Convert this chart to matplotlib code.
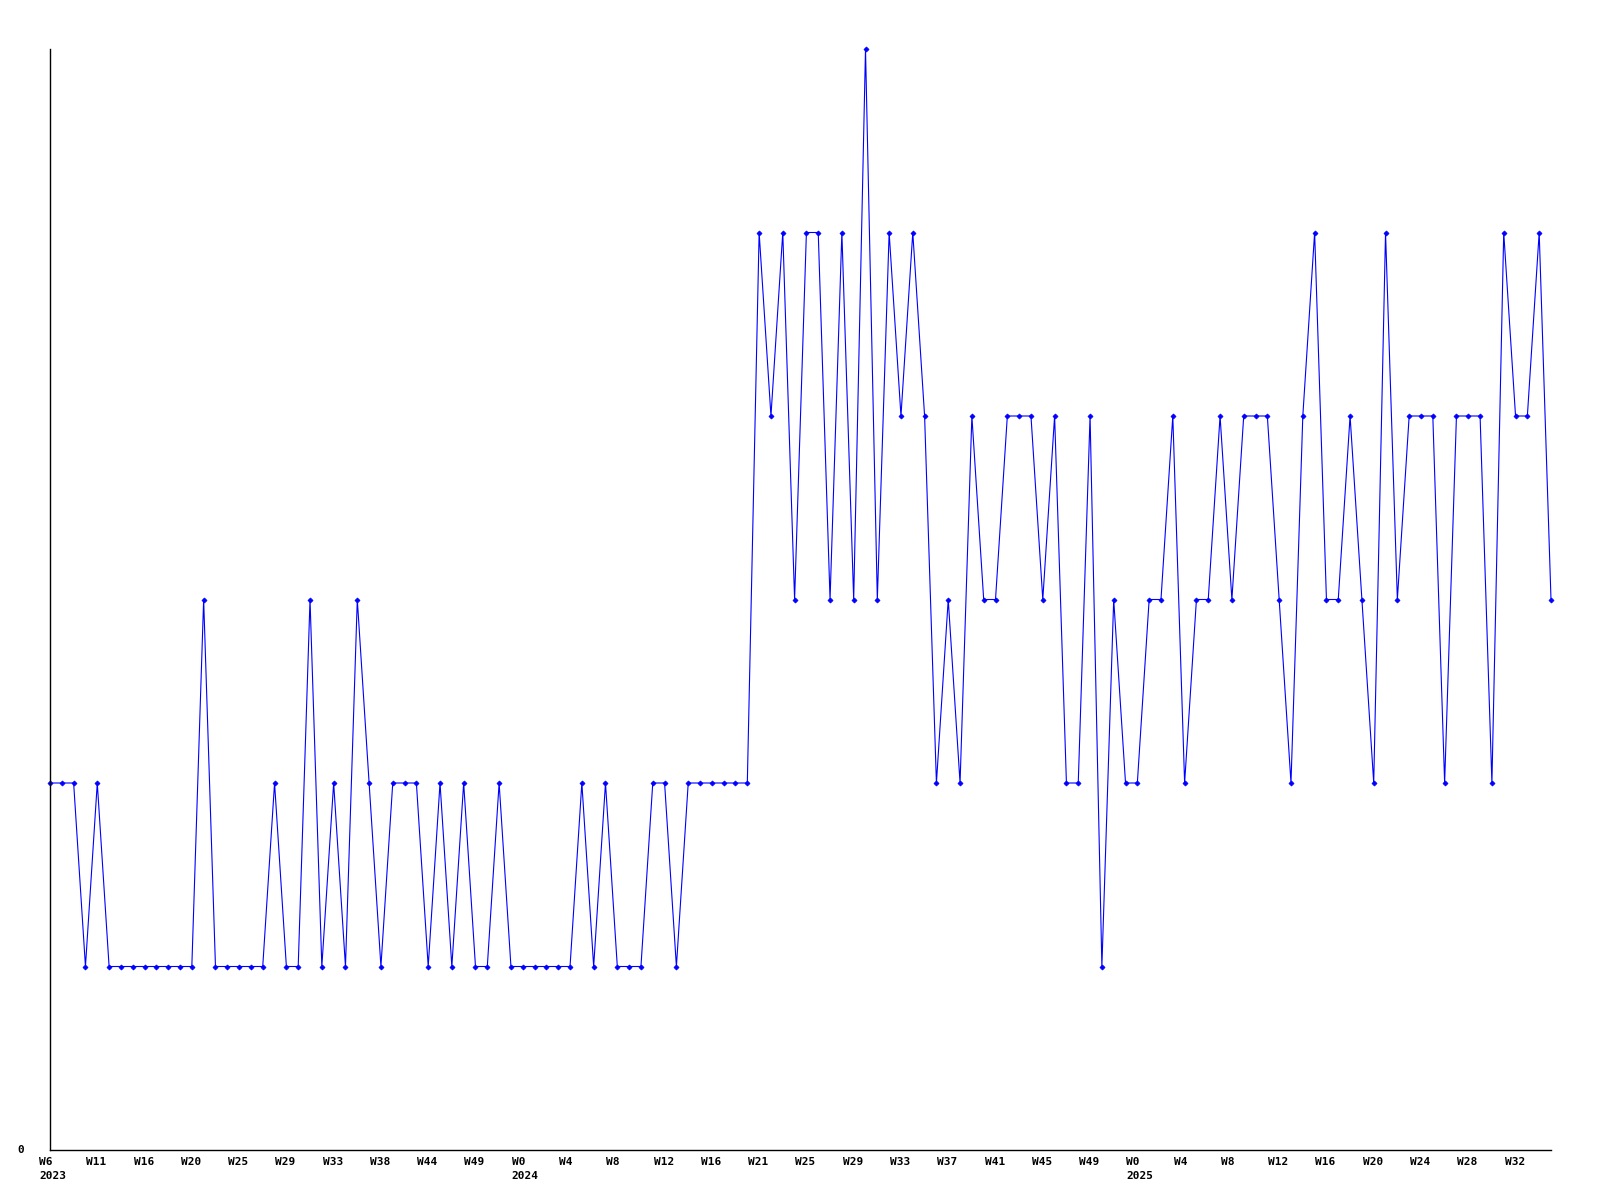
import numpy as np
import matplotlib.pyplot as plt

# valores semanales
valores = [2, 2, 2, 1, 2, 1, 1, 1, 1, 1, 1, 1, 1, 3, 1, 1, 1, 1, 1, 2,
           1, 1, 3, 1, 2, 1, 3, 2, 1, 2, 2, 2, 1, 2, 1, 2, 1, 1, 2, 1,
           1, 1, 1, 1, 1, 2, 1, 2, 1, 1, 1, 2, 2, 1, 2, 2, 2, 2, 2, 2,
           5, 4, 5, 3, 5, 5, 3, 5, 3, 6, 3, 5, 4, 5, 4, 2, 3, 2, 4, 3,
           3, 4, 4, 4, 3, 4, 2, 2, 4, 1, 3, 2, 2, 3, 3, 4, 2, 3, 3, 4,
           3, 4, 4, 4, 3, 2, 4, 5, 3, 3, 4, 3, 2, 5, 3, 4, 4, 4, 2, 4,
           4, 4, 2, 5, 4, 4, 5, 3]

etiquetas = ["W6\n2023", "W11", "W16", "W20", "W25", "W29", "W33", "W38",
             "W44", "W49", "W0\n2024", "W4", "W8", "W12", "W16", "W21",
             "W25", "W29", "W33", "W37", "W41", "W45", "W49", "W0\n2025",
             "W4", "W8", "W12", "W16", "W20", "W24", "W28", "W32"]
paso_etiqueta = 4

x = np.arange(len(valores))

fig = plt.figure(figsize=(16, 12), dpi=100)
ax = fig.add_axes([50 / 1600, 1 - 1150 / 1200, 1501 / 1600, 1101 / 1200])
ax.plot(x, valores, color="#0000ff", linewidth=0.8, marker="D",
        markersize=2.6, markeredgewidth=0.5, clip_on=False)
ax.set_xlim(0, len(valores) - 1)
ax.set_ylim(0, 6)

ax.spines["top"].set_visible(False)
ax.spines["right"].set_visible(False)
ax.spines["left"].set_linewidth(1.0)
ax.spines["bottom"].set_linewidth(1.0)
ax.set_xticks([])
ax.set_yticks([])

fuente = dict(family="DejaVu Sans Mono", fontweight="bold", fontsize=8)
for i, et in enumerate(etiquetas):
    ax.annotate(et, xy=(i * paso_etiqueta, 0), xycoords=("data", "axes fraction"),
                xytext=(-11, -7), textcoords="offset pixels",
                ha="left", va="top", linespacing=1.5, **fuente)

ax.annotate("0", xy=(0, 0), xycoords="axes fraction", xytext=(-26, 0),
            textcoords="offset pixels", ha="right", va="center", **fuente)

fig.savefig("out.png", dpi=100)
